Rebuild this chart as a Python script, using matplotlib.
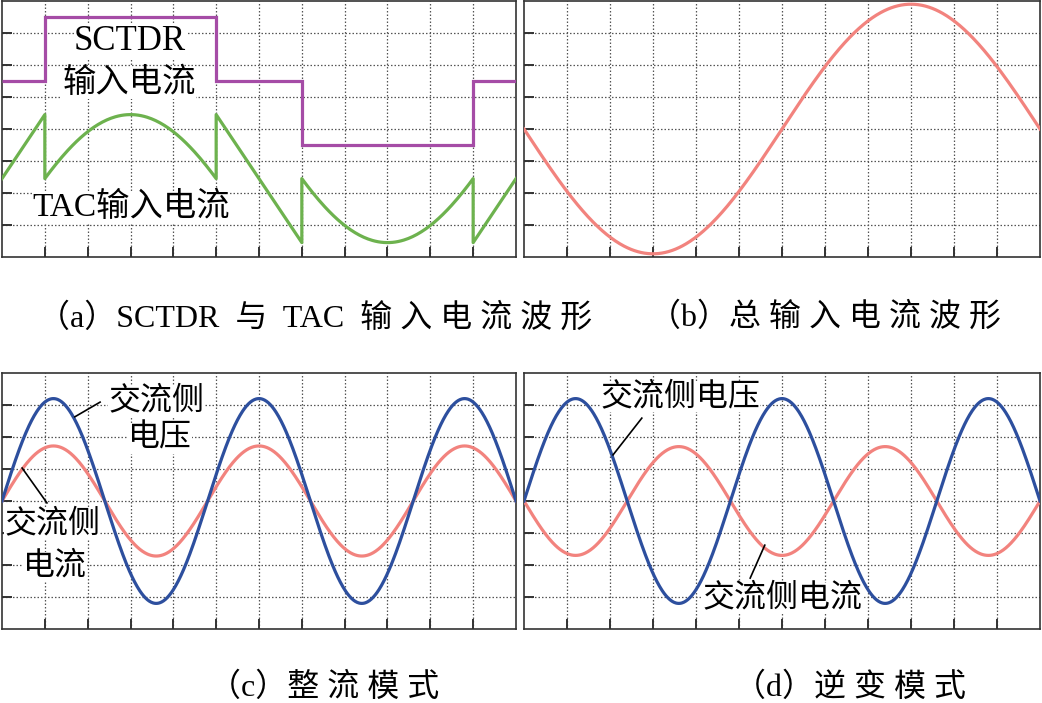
import numpy as np
import matplotlib
matplotlib.use("Agg")
import matplotlib.pyplot as plt

FONT = ["Liberation Serif", "Noto Sans CJK SC", "DejaVu Sans"]
plt.rcParams["font.family"] = FONT

# oscilloscope screen: 12 x 8 divisions, values in divisions
N_XDIV = 12
N_YDIV = 8

# (a) SCTDR input current: square wave edges and levels
sctdr_edges = [0, 1, 5, 7, 11, 12]
sctdr_levels = [1.5, 3.5, 1.5, -0.5, 1.5]

# (a) TAC input current: straight ramps and sine-shaped arcs
tac_ramp_x = [[0, 1], [5, 7], [11, 12]]
tac_ramp_y = [[-1.55, 0.45], [0.45, -3.55], [-3.55, -1.55]]
tac_arc_span = [[1, 5], [7, 11]]
tac_arc_peak = [0.45, -3.55]
tac_arc_sign = [1, -1]
tac_arc_amp = 4.0

# (b) total input current
total_amp = -3.9
total_period = 12.0

# (c)/(d) AC side voltage and current
ac_period = 4.8
volt_amp = 3.2
curr_amp_rect = 1.72
curr_amp_inv = -1.7

PURPLE = "#a54ca6"
GREEN = "#6db24e"
RED = "#f2837e"
BLUE = "#2d4f9e"
LW = 2.3


def style_axes(ax):
    ax.set_xlim(0, N_XDIV)
    ax.set_ylim(-N_YDIV / 2, N_YDIV / 2)
    ax.set_xticks(np.arange(1, N_XDIV))
    ax.set_yticks(np.arange(-N_YDIV / 2 + 1, N_YDIV / 2))
    ax.set_xticklabels([])
    ax.set_yticklabels([])
    ax.tick_params(direction="in", length=7, width=1.4, color="#333333",
                   top=False, right=False)
    ax.grid(True, linestyle=(0, (1.2, 1.6)), color="#555555", lw=0.9)
    for sp in ax.spines.values():
        sp.set_linewidth(1.2)
        sp.set_color("#333333")


def label(ax, x, y, s, size=24):
    ax.text(x, y, s, ha="center", va="center", fontsize=size, family=FONT,
            zorder=6, bbox=dict(facecolor="white", edgecolor="none", pad=0))


def leader(ax, x0, y0, x1, y1):
    ax.plot([x0, x1], [y0, y1], color="black", lw=1.2, zorder=7)


W, H = 1042, 703
fig = plt.figure(figsize=(W / 100, H / 100), dpi=100)


def px_axes(l, t, r, b):
    return fig.add_axes([l / W, 1 - b / H, (r - l) / W, (b - t) / H])


ax_a = px_axes(2, 1, 516, 257)
ax_b = px_axes(524, 1, 1040, 257)
ax_c = px_axes(2, 373, 516, 629)
ax_d = px_axes(524, 373, 1040, 629)
for ax in (ax_a, ax_b, ax_c, ax_d):
    style_axes(ax)

# (a)
ax_a.stairs(sctdr_levels, sctdr_edges, color=PURPLE, lw=LW, baseline=None, zorder=3)
tac_x, tac_y = [], []
for k in range(3):
    tac_x += tac_ramp_x[k]
    tac_y += tac_ramp_y[k]
    if k < 2:
        x0, x1 = tac_arc_span[k]
        xs = np.linspace(x0, x1, 120)
        xc = 0.5 * (x0 + x1)
        ys = tac_arc_peak[k] - tac_arc_sign[k] * tac_arc_amp * (1 - np.cos(np.pi * (xs - xc) / 6))
        tac_x += list(xs)
        tac_y += list(ys)
ax_a.plot(tac_x, tac_y, color=GREEN, lw=LW, zorder=3)
label(ax_a, 2.99, 2.72, "SCTDR", 25)
label(ax_a, 2.97, 1.44, "输入电流", 24)
label(ax_a, 3.01, -2.44, "TAC输入电流", 24)

# (b)
xb = np.linspace(0, N_XDIV, 600)
ax_b.plot(xb, total_amp * np.sin(2 * np.pi * xb / total_period), color=RED, lw=LW, zorder=3)

# (c)
xc = np.linspace(0, N_XDIV, 800)
ph = 2 * np.pi * xc / ac_period
ax_c.plot(xc, curr_amp_rect * np.sin(ph), color=RED, lw=LW, zorder=3)
ax_c.plot(xc, volt_amp * np.sin(ph), color=BLUE, lw=LW, zorder=4)
label(ax_c, 3.6, 3.12, "交流侧", 23)
label(ax_c, 3.69, 1.94, "电压", 23)
label(ax_c, 1.17, -0.72, "交流侧", 23)
label(ax_c, 1.24, -2.06, "电流", 23)
leader(ax_c, 2.29, 3.09, 1.70, 2.63)
leader(ax_c, 0.47, 1.03, 1.05, -0.06)

# (d)
ax_d.plot(xc, curr_amp_inv * np.sin(ph), color=RED, lw=LW, zorder=3)
ax_d.plot(xc, volt_amp * np.sin(ph), color=BLUE, lw=LW, zorder=4)
label(ax_d, 3.63, 3.25, "交流侧电压", 23)
label(ax_d, 6.0, -3.03, "交流侧电流", 23)
leader(ax_d, 2.74, 2.59, 2.07, 1.44)
leader(ax_d, 5.6, -1.38, 5.26, -2.41)

# captions
cap = dict(fontsize=23, family=FONT, va="center", ha="left")
fig.text(38 / W, 1 - 318 / H, "（a）SCTDR  与  TAC  输 入 电 流 波 形", **cap)
fig.text(649 / W, 1 - 317 / H, "（b）总 输 入 电 流 波 形", **cap)
fig.text(209 / W, 1 - 688 / H, "（c）整 流 模 式", **cap)
fig.text(734 / W, 1 - 688 / H, "（d）逆 变 模 式", **cap)

fig.savefig("out.png", dpi=100, facecolor="white")
